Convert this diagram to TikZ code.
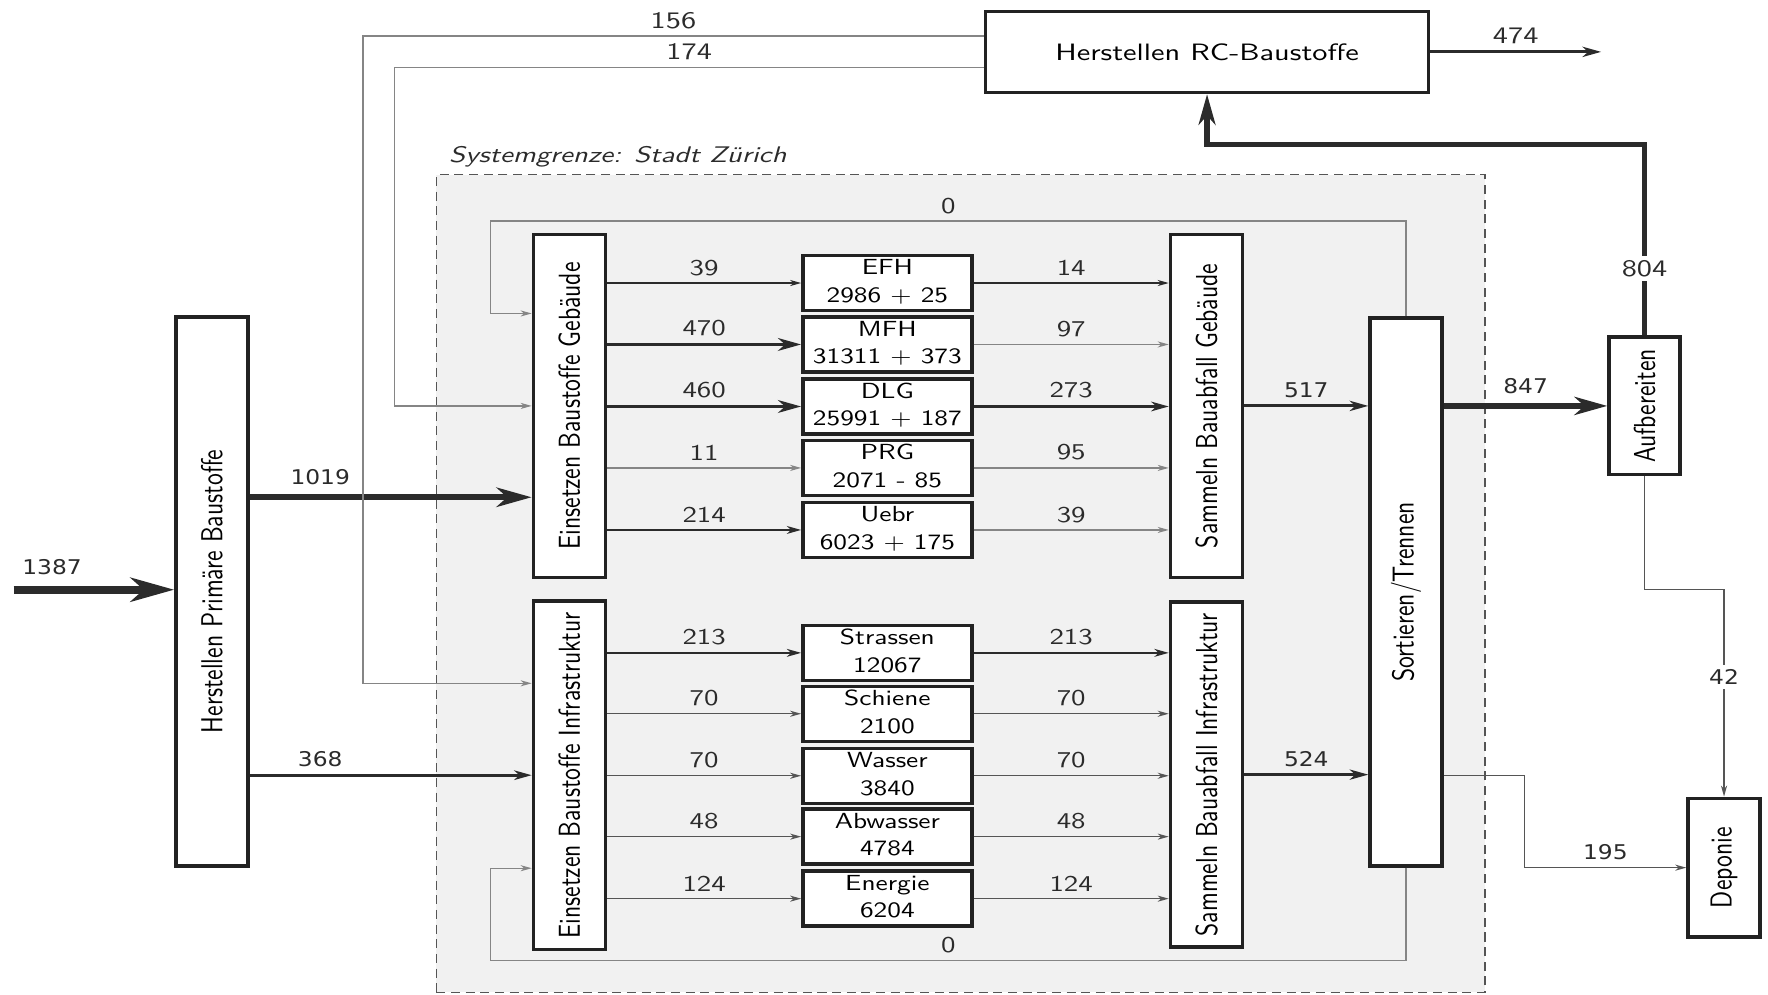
\documentclass[tikz,border=0pt]{standalone}
\usepackage{fontspec}
\usepackage{graphicx}
\newfontfamily\dvfont{DejaVu Sans}
\usetikzlibrary{arrows.meta}
\definecolor{boxc}{HTML}{222222}
\definecolor{flowc}{HTML}{2B2B2B}
\definecolor{thinc}{HTML}{555555}
\definecolor{loopc}{HTML}{858585}
\definecolor{sysfill}{HTML}{F1F1F1}
\newcommand{\hst}[1]{\scalebox{1.28}[1]{#1}}
\newcommand{\vst}[1]{\rotatebox{90}{\scalebox{1}[1.28]{#1}}}
\newcommand{\mtxt}[2]{\scalebox{1.25}[1]{\begin{tabular}{@{}c@{}}#1\\#2\end{tabular}}}
\begin{document}
\begin{tikzpicture}[x=0.5pt,y=-0.5pt,
  proc/.style={draw=boxc, line width=1.5pt, fill=white, inner sep=0pt, font=\sffamily\fontsize{10.5}{12}\selectfont},
  mid/.style={draw=boxc, line width=1.5pt, fill=white, inner sep=0pt, minimum width=75pt, minimum height=23pt, font=\sffamily\fontsize{9.7}{12.2}\selectfont},
  lbl/.style={font=\sffamily\fontsize{10}{12}\selectfont, inner sep=1pt, text=flowc},
  blbl/.style={font=\sffamily\fontsize{10.5}{12}\selectfont, inner sep=1pt, text=flowc},
  dlbl/.style={font=\dvfont\fontsize{9}{11}\selectfont, inner sep=1pt, text=flowc},
  flow/.style={draw=flowc, line width=#1pt, -{Stealth[length=2pt 4.8, width'=0pt 0.55, inset'=0pt 0.3]}},
  thinflow/.style={draw=thinc, line width=0.6pt, -{Stealth[length=2pt 4.8, width'=0pt 0.55, inset'=0pt 0.3]}},
  grayflow/.style={draw=loopc, line width=0.6pt, -{Stealth[length=2pt 4.8, width'=0pt 0.55, inset'=0pt 0.3]}}
]
\useasboundingbox (0,0) rectangle (1568,882);

% system boundary
\node[draw=thinc, line width=0.6pt, dash pattern=on 4pt off 2.5pt, fill=sysfill, minimum width=465pt, minimum height=362.5pt, inner sep=0pt] (sysbox) at (852,517.5) {};
\node[anchor=base west, font=\sffamily\itshape\fontsize{10}{12}\selectfont, text=flowc, inner sep=0pt] (syslbl) at (398,144) {\hst{Systemgrenze: Stadt Zürich}};

% process boxes
\node[proc, minimum width=196.5pt, minimum height=36pt] (rc) at (1070.5,46) {\hst{Herstellen RC-Baustoffe}};
\node[proc, minimum width=32pt, minimum height=243.5pt] (hpb) at (188,524.5) {\vst{Herstellen Primäre Baustoffe}};
\node[proc, minimum width=32pt, minimum height=152pt] (ebg) at (505,360) {\vst{Einsetzen Baustoffe Gebäude}};
\node[proc, minimum width=32pt, minimum height=154.5pt] (ebi) at (505,687.5) {\vst{Einsetzen Baustoffe Infrastruktur}};
\node[proc, minimum width=32pt, minimum height=152pt] (sbg) at (1070,360) {\vst{Sammeln Bauabfall Gebäude}};
\node[proc, minimum width=32pt, minimum height=153pt] (sbi) at (1070,687) {\vst{Sammeln Bauabfall Infrastruktur}};
\node[proc, minimum width=32pt, minimum height=243pt] (st) at (1247,525) {\vst{Sortieren/Trennen}};
\node[proc, minimum width=31.5pt, minimum height=61pt] (auf) at (1458.5,360) {\vst{Aufbereiten}};
\node[proc, minimum width=32pt, minimum height=61.5pt] (dep) at (1529,769.5) {\vst{Deponie}};

% middle boxes
\node[mid] (efh) at (787,251) {\mtxt{EFH}{2986 + 25}};
\node[mid] (mfh) at (787,305.5) {\mtxt{MFH}{31311 + 373}};
\node[mid] (dlg) at (787,360.5) {\mtxt{DLG}{25991 + 187}};
\node[mid] (prg) at (787,415) {\mtxt{PRG}{2071 - 85}};
\node[mid] (uebr) at (787,470) {\mtxt{Uebr}{6023 + 175}};
\node[mid] (str) at (787,579) {\mtxt{Strassen}{12067}};
\node[mid] (sch) at (787,633) {\mtxt{Schiene}{2100}};
\node[mid] (was) at (787,688) {\mtxt{Wasser}{3840}};
\node[mid] (abw) at (787,742) {\mtxt{Abwasser}{4784}};
\node[mid] (ene) at (787,797) {\mtxt{Energie}{6204}};

% helper coordinates
\coordinate (src) at (12,523);
\coordinate (y1019) at (0,441);
\coordinate (c156) at (322,32);
\coordinate (y156) at (0,606);
\coordinate (c174) at (350,60);
\coordinate (loopT) at (435,196);
\coordinate (yl1) at (0,278);
\coordinate (loopB) at (435,852);
\coordinate (yl2) at (0,770);
\coordinate (out474) at (1420,46);
\coordinate (y804) at (0,128);
\coordinate (y42) at (0,523);
\coordinate (k195) at (1352,688);

% inputs
\draw[flow=3.6] (src) -- node[dlbl, pos=0.24, above=4pt] {\scalebox{1.15}[1]{1387}} (hpb.west |- src);
\draw[flow=2.8] (hpb.east |- y1019) -- node[dlbl, pos=0.25, above=3pt] {\scalebox{1.15}[1]{1019}} (ebg.west |- y1019);
\draw[flow=1.2] (hpb.east |- ebi.west) -- node[dlbl, pos=0.25, above=2pt] {\scalebox{1.15}[1]{368}} (ebi.west);

% recycling back flows
\draw[grayflow] (rc.west |- c156) -- node[blbl, above=2pt] {\hst{156}} (c156) |- (ebi.west |- y156);
\draw[grayflow] (rc.west |- c174) -- node[blbl, above=2pt] {\hst{174}} (c174) |- (ebg.west);

% loops
\draw[grayflow] (st.north) |- node[lbl, pos=0.75, above=2pt] {\hst{0}} (loopT) |- (ebg.west |- yl1);
\draw[grayflow] (st.south) |- node[lbl, pos=0.75, above=2pt] {\hst{0}} (loopB) |- (ebi.west |- yl2);

% buildings: left
\draw[flow=0.6] (ebg.east |- efh.west) -- node[lbl, above=2pt] {\hst{39}} (efh.west);
\draw[flow=1.7] (ebg.east |- mfh.west) -- node[lbl, above=2pt] {\hst{470}} (mfh.west);
\draw[flow=1.7] (ebg.east |- dlg.west) -- node[lbl, above=2pt] {\hst{460}} (dlg.west);
\draw[grayflow] (ebg.east |- prg.west) -- node[lbl, above=2pt] {\hst{11}} (prg.west);
\draw[flow=0.9] (ebg.east |- uebr.west) -- node[lbl, above=2pt] {\hst{214}} (uebr.west);
% buildings: right
\draw[flow=0.6] (efh.east) -- node[lbl, above=2pt] {\hst{14}} (sbg.west |- efh.east);
\draw[grayflow] (mfh.east) -- node[lbl, above=2pt] {\hst{97}} (sbg.west |- mfh.east);
\draw[flow=1.2] (dlg.east) -- node[lbl, above=2pt] {\hst{273}} (sbg.west |- dlg.east);
\draw[grayflow] (prg.east) -- node[lbl, above=2pt] {\hst{95}} (sbg.west |- prg.east);
\draw[grayflow] (uebr.east) -- node[lbl, above=2pt] {\hst{39}} (sbg.west |- uebr.east);

% infrastructure: left
\draw[flow=0.9] (ebi.east |- str.west) -- node[lbl, above=2pt] {\hst{213}} (str.west);
\draw[thinflow] (ebi.east |- sch.west) -- node[lbl, above=2pt] {\hst{70}} (sch.west);
\draw[thinflow] (ebi.east |- was.west) -- node[lbl, above=2pt] {\hst{70}} (was.west);
\draw[thinflow] (ebi.east |- abw.west) -- node[lbl, above=2pt] {\hst{48}} (abw.west);
\draw[thinflow] (ebi.east |- ene.west) -- node[lbl, above=2pt] {\hst{124}} (ene.west);
% infrastructure: right
\draw[flow=0.9] (str.east) -- node[lbl, above=2pt] {\hst{213}} (sbi.west |- str.east);
\draw[thinflow] (sch.east) -- node[lbl, above=2pt] {\hst{70}} (sbi.west |- sch.east);
\draw[thinflow] (was.east) -- node[lbl, above=2pt] {\hst{70}} (sbi.west |- was.east);
\draw[thinflow] (abw.east) -- node[lbl, above=2pt] {\hst{48}} (sbi.west |- abw.east);
\draw[thinflow] (ene.east) -- node[lbl, above=2pt] {\hst{124}} (sbi.west |- ene.east);

% collection to sorting
\draw[flow=1.3] (sbg.east) -- node[dlbl, above=2pt] {\scalebox{1.15}[1]{517}} (st.west |- sbg.east);
\draw[flow=1.3] (sbi.east) -- node[dlbl, above=2pt] {\scalebox{1.15}[1]{524}} (st.west |- sbi.east);

% sorting outputs
\draw[flow=2.6] (st.east |- auf.west) -- node[dlbl, above=3pt] {\scalebox{1.15}[1]{847}} (auf.west);
\draw[thinflow] (st.east |- k195) -- (k195) |- node[dlbl, pos=0.75, above=2pt] {\scalebox{1.15}[1]{195}} (dep.west);

% Aufbereiten outputs
\draw[flow=2.4] (auf.north) -- node[blbl, pos=0.35, fill=white, inner sep=2pt] {\hst{804}} (auf.north |- y804) -- (rc.south |- y804) -- (rc.south);
\draw[thinflow] (auf.south) |- (dep.north |- y42) -- node[dlbl, pos=0.42, fill=white, inner sep=2pt] {\scalebox{1.15}[1]{42}} (dep.north);

% RC output
\draw[flow=1.3] (rc.east) -- node[blbl, above=2pt] {\hst{474}} (out474);
\end{tikzpicture}
\end{document}
